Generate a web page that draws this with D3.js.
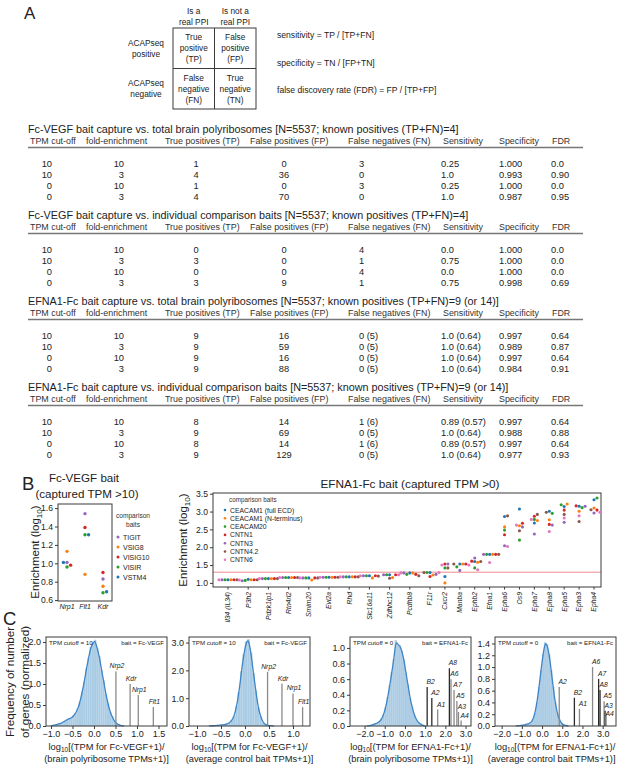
<!DOCTYPE html>
<html><head><meta charset="utf-8">
<script src="https://cdn.jsdelivr.net/npm/d3@7"></script>
<style>
body{margin:0;background:#fff;}
svg{font-family:"Liberation Sans",Arial,Helvetica,sans-serif;display:block;}
</style></head><body>
<svg id="fig" width="617" height="764"></svg>
<script>
// ================= DATA =================
const panelLetters = ["A", "B", "C"];

// Panel A: contingency table + formulas
const ppiColumnHeads = [["Is a", "real PPI"], ["Is not a", "real PPI"]];
const acapRowHeads = [["ACAPseq", "positive"], ["ACAPseq", "negative"]];
const contingencyCells = [
  [["True", "positive", "(TP)"], ["False", "positive", "(FP)"]],
  [["False", "negative", "(FN)"], ["True", "negative", "(TN)"]]
];
const metricFormulas = [
  "sensitivity = TP / [TP+FN]",
  "specificity = TN / [FP+TN]",
  "false discovery rate (FDR) = FP / [TP+FP]"
];

// Panel A: performance tables
const tableTitles = [
  "Fc-VEGF bait capture vs. total brain polyribosomes [N=5537; known positives (TP+FN)=4]",
  "Fc-VEGF bait capture vs. individual comparison baits [N=5537; known positives (TP+FN)=4]",
  "EFNA1-Fc bait capture vs. total brain polyribosomes [N=5537; known positives (TP+FN)=9 (or 14)]",
  "EFNA1-Fc bait capture vs. individual comparison baits [N=5537; known positives (TP+FN)=9 (or 14)]"
];
const tableHeaders = ["TPM cut-off", "fold-enrichment", "True positives (TP)", "False positives (FP)",
  "False negatives (FN)", "Sensitivity", "Specificity", "FDR"];
const tpmCutoffs = ["10", "10", "0", "0"];
const foldEnrichments = ["10", "3", "10", "3"];
const vegfPolyRows = [
  ["1", "0", "3", "0.25", "1.000", "0.0"],
  ["4", "36", "0", "1.0", "0.993", "0.90"],
  ["1", "0", "3", "0.25", "1.000", "0.0"],
  ["4", "70", "0", "1.0", "0.987", "0.95"]
];
const vegfBaitRows = [
  ["0", "0", "4", "0.0", "1.000", "0.0"],
  ["3", "0", "1", "0.75", "1.000", "0.0"],
  ["0", "0", "4", "0.0", "1.000", "0.0"],
  ["3", "9", "1", "0.75", "0.998", "0.69"]
];
const efnaPolyRows = [
  ["9", "16", "0 (5)", "1.0 (0.64)", "0.997", "0.64"],
  ["9", "59", "0 (5)", "1.0 (0.64)", "0.989", "0.87"],
  ["9", "16", "0 (5)", "1.0 (0.64)", "0.997", "0.64"],
  ["9", "88", "0 (5)", "1.0 (0.64)", "0.984", "0.91"]
];
const efnaBaitRows = [
  ["8", "14", "1 (6)", "0.89 (0.57)", "0.997", "0.64"],
  ["9", "69", "0 (5)", "1.0 (0.64)", "0.988", "0.88"],
  ["8", "14", "1 (6)", "0.89 (0.57)", "0.997", "0.64"],
  ["9", "129", "0 (5)", "1.0 (0.64)", "0.977", "0.93"]
];

// Panel B left: Fc-VEGF bait
const vegfTitle = ["Fc-VEGF bait", "(captured TPM >10)"];
const vegfGenes = ["Nrp1", "Flt1", "Kdr"];
const vegfBaits = ["TIGIT", "VSIG8", "VISIG10", "VISIR", "VSTM4"];
const vegfTIGIT = [1.01, 1.54, 0.83];
const vegfVSIG8 = [1.13, 0.88, 0.75];
const vegfVISIG10 = [0.98, 1.39, 0.90];
const vegfVISIR = [0.96, 1.31, 0.68];
const vegfVSTM4 = [1.01, 1.31, 0.69];
const vegfYTicks = [0.6, 0.8, 1.0, 1.2, 1.4, 1.6];

// Panel B right: EFNA1-Fc bait
const efnaTitle = "EFNA1-Fc bait (captured TPM >0)";
const efnaGenes = ["Il34 (IL34)", "P3h2", "Pdzk1ip1", "Rtn4rl2", "Smim20", "Evi2a", "Rhd", "Slc16a11",
  "Zdhhc12", "Pcdhb8", "F11r", "Cxcr2", "Manba", "Ephb2", "Efna1", "Epha6", "Os9", "Epha7",
  "Epha8", "Epha5", "Epha3", "Epha4"];
const efnaBaits = ["CEACAM1 (full ECD)", "CEACAM1 (N-terminus)", "CEACAM20", "CNTN1", "CNTN3", "CNTN4.2", "CNTN6"];
const efnaCEACAM1Full = [1.09, 1.10, 1.12, 1.15, 1.14, 1.16, 1.17, 1.20, 1.23, 1.28, 1.29, 1.18, 1.53, 1.60, 1.80, 2.86, 3.07, 2.68, 3.01, 3.14, 3.15, 3.33];
const efnaCEACAM1N = [1.09, 1.09, 1.12, 1.15, 1.08, 1.16, 1.17, 1.14, 1.15, 1.28, 1.22, 1.00, 1.53, 1.58, 1.80, 2.57, 2.60, 2.75, 2.77, 3.21, 3.01, 3.10];
const efnaCEACAM20 = [1.09, 1.07, 1.12, 1.15, 1.14, 1.16, 1.17, 1.20, 1.23, 1.24, 1.29, 1.42, 1.45, 1.42, 1.80, 2.48, 2.20, 2.78, 2.95, 3.19, 3.11, 3.38];
const efnaCNTN1 = [1.09, 1.09, 1.12, 1.15, 1.14, 1.16, 1.17, 1.20, 1.23, 1.24, 1.18, 1.53, 1.53, 1.61, 1.80, 2.35, 2.67, 2.87, 2.64, 3.04, 3.16, 3.04];
const efnaCNTN3 = [1.09, 1.06, 1.12, 1.15, 1.14, 1.16, 1.17, 1.20, 1.23, 1.28, 1.24, 1.53, 1.35, 1.70, 1.80, 2.04, 2.57, 2.37, 2.62, 2.70, 3.15, 2.96];
const efnaCNTN42 = [1.09, 1.09, 1.12, 1.15, 1.14, 1.16, 1.17, 1.19, 1.13, 1.20, 1.29, 1.42, 1.53, 1.60, 1.80, 2.88, 2.46, 2.92, 2.98, 2.92, 2.72, 3.05];
const efnaCNTN6 = [1.09, 1.08, 1.12, 1.15, 1.14, 1.16, 1.17, 1.20, 1.23, 1.28, 1.29, 1.50, 1.50, 1.37, 1.57, 2.02, 2.62, 2.78, 2.44, 2.82, 2.88, 2.98];
const efnaThreshold = 1.3; // log10(20)
const efnaYTicks = [1.0, 1.5, 2.0, 2.5, 3.0, 3.5];

// Panel C: histograms (bin start, bin width, heights)
const c1BinStart = -0.95, c1BinWidth = 0.05;
const c1Heights = [0.02, 0.03, 0.05, 0.06, 0.09, 0.12, 0.15, 0.18, 0.19, 0.24, 0.31, 0.41, 0.57, 0.81, 1.05, 1.37, 1.62, 1.88, 1.97, 2.05, 1.84, 1.66, 1.33, 1.08, 0.76, 0.54, 0.33, 0.22, 0.11, 0.06, 0.03, 0.01];
const c2BinStart = -0.7, c2BinWidth = 0.05;
const c2Heights = [0.01, 0.015, 0.02, 0.03, 0.04, 0.05, 0.08, 0.11, 0.20, 0.36, 0.71, 1.21, 1.96, 2.57, 3.03, 3.12, 2.63, 1.90, 1.27, 0.66, 0.34, 0.13, 0.05, 0.02, 0.01];
const c3BinStart = -1.8, c3BinWidth = 0.1;
const c3Heights = [0.005, 0.01, 0.02, 0.03, 0.04, 0.06, 0.09, 0.15, 0.24, 0.37, 0.52, 0.69, 0.85, 1.10, 1.04, 1.03, 0.96, 0.85, 0.68, 0.53, 0.36, 0.25, 0.15, 0.09, 0.05, 0.03, 0.01];
const c4BinStart = -1.2, c4BinWidth = 0.1;
const c4Heights = [0.005, 0.01, 0.015, 0.02, 0.03, 0.04, 0.06, 0.11, 0.22, 0.40, 0.66, 0.95, 1.22, 1.42, 1.38, 1.22, 0.95, 0.66, 0.40, 0.22, 0.11, 0.05, 0.02, 0.01];

const c1Genes = ["Nrp2", "Kdr", "Nrp1", "Flt1"];
const c1GeneX = [0.51, 0.84, 1.03, 1.38];
const c1GeneH = [1.30, 1.00, 0.74, 0.45];
const c2Genes = ["Nrp2", "Kdr", "Nrp1", "Flt1"];
const c2GeneX = [0.47, 0.77, 1.00, 1.20];
const c2GeneH = [1.95, 1.52, 1.17, 0.68];
const c3Genes = ["B2", "A2", "A1", "A8", "A6", "A7", "A5", "A3", "A4"];
const c3GeneX = [1.10, 1.33, 1.62, 2.20, 2.28, 2.43, 2.57, 2.65, 2.78];
const c3GeneH = [0.50, 0.36, 0.21, 0.74, 0.60, 0.46, 0.32, 0.18, 0.07];
const c4Genes = ["A2", "B2", "A1", "A6", "A7", "A8", "A5", "A3", "A4"];
const c4GeneX = [0.85, 1.60, 1.85, 2.50, 2.80, 2.87, 3.07, 3.12, 3.17];
const c4GeneH = [0.66, 0.48, 0.29, 1.00, 0.80, 0.61, 0.42, 0.26, 0.22];

const c1YTicks = [0, 0.5, 1.0, 1.5, 2.0], c1XTicks = [-1.0, -0.5, 0, 0.5, 1.0, 1.5];
const c2YTicks = [0, 1.0, 2.0, 3.0], c2XTicks = [-1.0, -0.5, 0, 0.5, 1.0];
const c3YTicks = [0, 0.2, 0.4, 0.6, 0.8, 1.0], c3XTicks = [-2, -1, 0, 1, 2, 3];
const c4YTicks = [0, 0.2, 0.4, 0.6, 0.8, 1.0, 1.2, 1.4], c4XTicks = [-2, -1, 0, 1, 2, 3];
const cCutoffLabels = ["TPM cutoff = 10", "TPM cutoff = 10", "TPM cutoff = 0", "TPM cutoff = 0"];
const cBaitLabels = ["bait = Fc-VEGF", "bait = Fc-VEGF", "bait = EFNA1-Fc", "bait = EFNA1-Fc"];
const cXLabel1 = ["[(TPM for Fc-VEGF+1)/", "[(TPM for Fc-VEGF+1)/", "[(TPM for EFNA1-Fc+1)/", "[(TPM for EFNA1-Fc+1)/"];
const cXLabel2 = ["(brain polyribosome TPMs+1)]", "(average control bait TPMs+1)]", "(brain polyribosome TPMs+1)]", "(average control bait TPMs+1)]"];
const cYLabel = ["Frequency of number", "of genes (normalized)"];

// ================= DRAWING =================
const svg = d3.select("#fig");
const INK = "#222";
const FRAME = "#3a3a3a";
const tab10 = d3.schemeCategory10;
svg.append("rect").attr("width", 617).attr("height", 764).attr("fill", "#fff");

function addText(parent, x, y, str, size, o = {}) {
  const t = parent.append("text").attr("x", x).attr("y", y).attr("font-size", size)
    .attr("fill", o.fill || INK).attr("text-anchor", o.anchor || "start").text(str);
  if (o.italic) t.attr("font-style", "italic");
  return t;
}
function frame(g, b) {
  g.append("rect").attr("x", b.x0).attr("y", b.y0).attr("width", b.x1 - b.x0).attr("height", b.y1 - b.y0)
    .attr("fill", "none").attr("stroke", FRAME).attr("stroke-width", 1);
}
function styleAxis(sel, size) {
  sel.select(".domain").remove();
  sel.selectAll(".tick line").attr("stroke", FRAME);
  sel.selectAll(".tick text").attr("font-size", size).attr("fill", INK).attr("font-family", null);
}
function swarm(points, d) {
  const placed = [];
  points.forEach(p => {
    for (let k = 0; k < 60; k++) {
      const off = k === 0 ? 0 : (k % 2 === 1 ? 1 : -1) * Math.ceil(k / 2) * d;
      const x = p.cx + off;
      if (placed.every(q => Math.hypot(q.x - x, q.y - p.cy) >= d - 0.01)) {
        p.x = x; placed.push({x: x, y: p.cy}); break;
      }
    }
  });
}
function logLabel(g, x, y, pre, sub, post, size, rotate) {
  const t = g.append("text").attr("font-size", size).attr("fill", INK).attr("text-anchor", "middle")
    .attr("transform", `translate(${x},${y})` + (rotate ? " rotate(-90)" : ""));
  t.append("tspan").text(pre);
  t.append("tspan").text(sub).attr("font-size", size * 0.7).attr("dy", size * 0.27);
  t.append("tspan").text(post).attr("dy", -size * 0.27);
  return t;
}

// ---------- Panel A ----------
const gA = svg.append("g");
addText(gA, 24, 19, panelLetters[0], 17);
const ctX = d3.scaleBand().domain([0, 1]).range([173, 256]);
const ctY = d3.scaleBand().domain([0, 1]).range([28, 109]);
gA.append("rect").attr("x", 173).attr("y", 28).attr("width", 83).attr("height", 81)
  .attr("fill", "none").attr("stroke", FRAME).attr("stroke-width", 1);
gA.append("line").attr("x1", ctX(1)).attr("x2", ctX(1)).attr("y1", 28).attr("y2", 109).attr("stroke", FRAME);
gA.append("line").attr("x1", 173).attr("x2", 256).attr("y1", ctY(1)).attr("y2", ctY(1)).attr("stroke", FRAME);
ppiColumnHeads.forEach((lines, i) => lines.forEach((s, j) =>
  addText(gA, ctX(i) + ctX.bandwidth() / 2, 14 + 11 * j, s, 8.3, {anchor: "middle"})));
acapRowHeads.forEach((lines, i) => lines.forEach((s, j) =>
  addText(gA, 146, ctY(i) + ctY.bandwidth() / 2 - 2.5 + 11 * j, s, 8.3, {anchor: "middle"})));
contingencyCells.forEach((row, r) => row.forEach((lines, c) => lines.forEach((s, j) =>
  addText(gA, ctX(c) + ctX.bandwidth() / 2, ctY(r) + ctY.bandwidth() / 2 - 8 + 11 * j, s, 8.3, {anchor: "middle"}))));
metricFormulas.forEach((s, i) => addText(gA, 277, 38 + 27.5 * i, s, 8.6));

// tables
const allTableRows = [vegfPolyRows, vegfBaitRows, efnaPolyRows, efnaBaitRows];
const headX = [30, 86, 165, 250, 348, 443, 499, 552];
const valX = [52, 124, 196, 284, 359, 441, 499, 551];
const valAnchor = ["end", "end", "middle", "middle", "start", "start", "start", "start"];
tableTitles.forEach((title, t) => {
  const top = 129 + 86 * t;
  addText(gA, 28, top + 4, title, 10.8);
  tableHeaders.forEach((h, c) => addText(gA, headX[c], top + 14.5, h, 8.9, {fill: "#333"}));
  gA.append("line").attr("x1", 28).attr("x2", 583).attr("y1", top + 18.5).attr("y2", top + 18.5)
    .attr("stroke", "#777").attr("stroke-width", 1.4);
  allTableRows[t].forEach((row, r) => {
    const cells = [tpmCutoffs[r], foldEnrichments[r]].concat(row);
    cells.forEach((v, c) => addText(gA, valX[c], top + 38 + 11 * r, v, 9.3, {anchor: valAnchor[c]}));
  });
});

// ---------- Panel B ----------
const gB = svg.append("g");
addText(gB, 22, 490, panelLetters[1], 18.5);
addText(gB, 84, 482, vegfTitle[0], 11.6, {anchor: "middle"});
addText(gB, 87, 497.5, vegfTitle[1], 11.6, {anchor: "middle"});

const bL = {x0: 58, x1: 112, y0: 504, y1: 601};
const xL = d3.scalePoint().domain(vegfGenes).range([bL.x0, bL.x1]).padding(0.5);
const yL = d3.scaleLinear().domain([0.59, 1.645]).range([bL.y1, bL.y0]);
frame(gB, bL);
gB.append("g").attr("transform", `translate(${bL.x0},0)`)
  .call(d3.axisLeft(yL).tickValues(vegfYTicks).tickSize(3).tickPadding(2).tickFormat(d3.format(".1f")))
  .call(s => styleAxis(s, 8.6));
vegfGenes.forEach(g => addText(gB, xL(g), 608.5, g, 7, {anchor: "middle", italic: true}));
logLabel(gB, 39, 552, "Enrichment (log", "10", ")", 11.5, true);

const vegfSeries = [vegfTIGIT, vegfVSIG8, vegfVISIG10, vegfVISIR, vegfVSTM4];
const vegfColors = [tab10[4], tab10[1], tab10[3], tab10[2], tab10[0]];
vegfGenes.forEach((g, gi) => {
  const pts = vegfSeries.map((s, si) => ({cx: xL(g), cy: yL(s[gi]), color: vegfColors[si]}));
  swarm(pts, 3.6);
  pts.forEach(p => gB.append("circle").attr("cx", p.x).attr("cy", p.cy).attr("r", 1.7).attr("fill", p.color));
});
addText(gB, 133, 518, "comparison", 6.6, {anchor: "middle", fill: "#333"});
addText(gB, 133, 527, "baits", 6.6, {anchor: "middle", fill: "#333"});
vegfBaits.forEach((b, i) => {
  gB.append("circle").attr("cx", 118).attr("cy", 537 + 10 * i).attr("r", 1.5).attr("fill", vegfColors[i]);
  addText(gB, 123, 539.5 + 10 * i, b, 7);
});

// right plot
const bR = {x0: 213, x1: 601, y0: 493, y1: 587};
const xR = d3.scaleLinear().domain([0, 10, efnaGenes.length - 1]).range([228, 430, 594]);
const yR = d3.scaleLinear().domain([0.885, 3.52]).range([bR.y1, bR.y0]);
addText(gB, 410, 488, efnaTitle, 11.8, {anchor: "middle"});
gB.append("line").attr("x1", bR.x0).attr("x2", bR.x1).attr("y1", yR(efnaThreshold)).attr("y2", yR(efnaThreshold))
  .attr("stroke", "#f08a8a").attr("stroke-width", 1);
frame(gB, bR);
gB.append("g").attr("transform", `translate(${bR.x0},0)`)
  .call(d3.axisLeft(yR).tickValues(efnaYTicks).tickSize(3).tickPadding(2).tickFormat(d3.format(".1f")))
  .call(s => styleAxis(s, 8.6));
efnaGenes.forEach((g, i) => {
  gB.append("line").attr("x1", xR(i)).attr("x2", xR(i)).attr("y1", bR.y1).attr("y2", bR.y1 + 2.5).attr("stroke", FRAME);
  addText(gB, 0, 0, g, 6.8, {anchor: "end", italic: true})
    .attr("transform", `translate(${xR(i)},${bR.y1 + 5}) rotate(-90)`).attr("dy", "0.35em");
});
logLabel(gB, 187, 540, "Enrichment (log", "10", ")", 11.5, true);

const efnaSeries = [efnaCEACAM1Full, efnaCEACAM1N, efnaCEACAM20, efnaCNTN1, efnaCNTN3, efnaCNTN42, efnaCNTN6];
const efnaColors = [tab10[0], tab10[1], tab10[2], tab10[3], tab10[4], tab10[5], tab10[6]];
efnaGenes.forEach((g, gi) => {
  const pts = efnaSeries.map((s, si) => ({cx: xR(gi), cy: yR(s[gi]), color: efnaColors[si]}));
  swarm(pts, 3.0);
  pts.forEach(p => gB.append("circle").attr("cx", p.x).attr("cy", p.cy).attr("r", 1.55).attr("fill", p.color));
});
addText(gB, 229, 502, "comparison baits", 6.3, {fill: "#333"});
efnaBaits.forEach((b, i) => {
  gB.append("circle").attr("cx", 225).attr("cy", 510 + 8.3 * i).attr("r", 1.3).attr("fill", efnaColors[i]);
  addText(gB, 230, 512.5 + 8.3 * i, b, 6.8);
});

// ---------- Panel C ----------
const gC = svg.append("g");
addText(gC, 3, 625, panelLetters[2], 18.5);
cYLabel.forEach((s, i) => addText(gC, 0, 0, s, 11.6, {anchor: "middle"})
  .attr("transform", `translate(${14 + 15 * i},682) rotate(-90)`));

const cPanels = [
  {b: {x0: 46, x1: 167}, xd: [-1.116, 1.698], yd: [0, 2.12], start: c1BinStart, w: c1BinWidth, h: c1Heights,
   genes: c1Genes, gx: c1GeneX, gh: c1GeneH, yt: c1YTicks, xt: c1XTicks, dark: []},
  {b: {x0: 189, x1: 310}, xd: [-1.167, 1.354], yd: [0, 3.2], start: c2BinStart, w: c2BinWidth, h: c2Heights,
   genes: c2Genes, gx: c2GeneX, gh: c2GeneH, yt: c2YTicks, xt: c2XTicks, dark: []},
  {b: {x0: 350, x1: 471}, xd: [-2.72, 3.27], yd: [0, 1.14], start: c3BinStart, w: c3BinWidth, h: c3Heights,
   genes: c3Genes, gx: c3GeneX, gh: c3GeneH, yt: c3YTicks, xt: c3XTicks, dark: ["B2", "A2", "A8"]},
  {b: {x0: 495, x1: 616}, xd: [-2.33, 3.66], yd: [0, 1.51], start: c4BinStart, w: c4BinWidth, h: c4Heights,
   genes: c4Genes, gx: c4GeneX, gh: c4GeneH, yt: c4YTicks, xt: c4XTicks, dark: ["B2", "A7", "A8", "A3"]}
];
cPanels.forEach((P, pi) => {
  const b = Object.assign({y0: 637, y1: 726}, P.b);
  const g = gC.append("g");
  const x = d3.scaleLinear().domain(P.xd).range([b.x0, b.x1]);
  const y = d3.scaleLinear().domain(P.yd).range([b.y1, b.y0]);
  // histogram bars
  g.selectAll("rect.bar").data(P.h).join("rect").attr("class", "bar")
    .attr("x", (d, i) => x(P.start + i * P.w))
    .attr("width", (d, i) => x(P.start + (i + 1) * P.w) - x(P.start + i * P.w))
    .attr("y", d => y(d)).attr("height", d => y(0) - y(d))
    .attr("fill", "#a9cbe4").attr("stroke", "#bcd6ea").attr("stroke-width", 0.3);
  // smooth density line through bin centres
  const pts = [[P.start - P.w, 0]].concat(P.h.map((d, i) => [P.start + (i + 0.5) * P.w, d]), [[P.start + (P.h.length + 1) * P.w, 0]]);
  g.append("path").attr("d", d3.line().x(d => x(d[0])).y(d => y(d[1])).curve(d3.curveBasis)(pts))
    .attr("fill", "none").attr("stroke", "#3d85c6").attr("stroke-width", 1.3);
  // gene lines + labels (labels pushed down when crowded)
  const placedLabels = [];
  P.genes.forEach((gn, i) => {
    const dark = P.dark.includes(gn);
    const lx = x(P.gx[i]), top = y(P.gh[i]);
    g.append("line").attr("x1", lx).attr("x2", lx).attr("y1", y(0)).attr("y2", top)
      .attr("stroke", dark ? "#2a2a2a" : "#8a8a8a").attr("stroke-width", 1.3);
    const tx = lx + (pi >= 2 ? 3.5 : 1);
    let ty = top - 3;
    placedLabels.forEach(q => { if (Math.abs(q.x - tx) < 9 && Math.abs(q.y - ty) < 7.5) ty = q.y + 8; });
    placedLabels.push({x: tx, y: ty});
    addText(g, tx, ty, gn, 6.8, {anchor: "middle", italic: true});
  });
  frame(g, b);
  g.append("g").attr("transform", `translate(${b.x0},0)`)
    .call(d3.axisLeft(y).tickValues(P.yt).tickSize(3).tickPadding(2).tickFormat(d3.format(".1f")))
    .call(s => styleAxis(s, 9));
  g.append("g").attr("transform", `translate(0,${b.y1})`)
    .call(d3.axisBottom(x).tickValues(P.xt).tickSize(3).tickPadding(2).tickFormat(d3.format(".1f")))
    .call(s => styleAxis(s, 9));
  addText(g, b.x0 + 3, b.y0 + 8, cCutoffLabels[pi], 6.2);
  addText(g, b.x1 - 3, b.y0 + 8, cBaitLabels[pi], 6.2, {anchor: "end"});
  const cxm = (b.x0 + b.x1) / 2;
  const l1 = logLabel(g, cxm, 749.5, "log", "10", cXLabel1[pi], 9.3, false);
  const l2 = addText(g, cxm, 762, cXLabel2[pi], 9.3, {anchor: "middle"});
  [l1, l2].forEach(t => {
    const w = t.node().getComputedTextLength ? t.node().getBBox().width : 0;
    const over = (cxm + w / 2) - 615.5;
    if (over > 0) {
      if (t === l1) t.attr("transform", `translate(${cxm - over},749.5)`);
      else t.attr("x", cxm - over);
    }
  });
});
</script></body></html>
